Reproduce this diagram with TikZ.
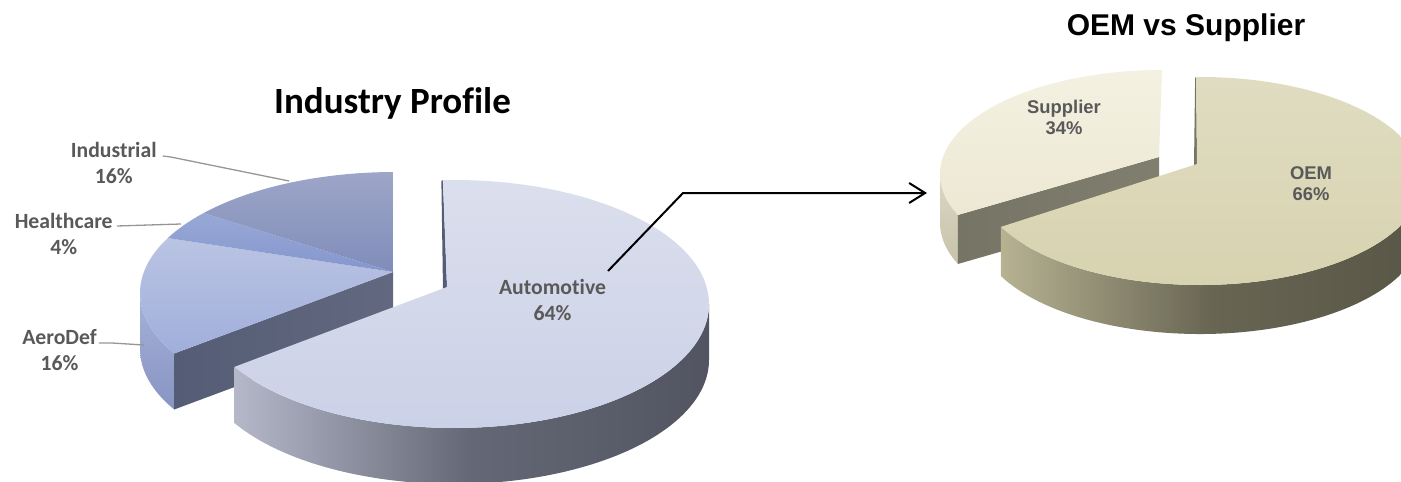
\documentclass[tikz,border=0pt]{standalone}
\usepackage{fontspec}
\setmainfont{Carlito}[Ligatures=CommonOff]
\newfontfamily\arialfont{Liberation Sans}
\usetikzlibrary{arrows.meta,calc}

\definecolor{lblgray}{RGB}{89,89,89}
\definecolor{leadgray}{RGB}{150,150,150}
\definecolor{indA}{RGB}{157,166,200}
\definecolor{indB}{RGB}{128,141,186}
\definecolor{heaA}{RGB}{152,168,214}
\definecolor{heaB}{RGB}{133,150,206}
\definecolor{aerA}{RGB}{186,196,227}
\definecolor{aerB}{RGB}{160,174,219}
\definecolor{aerrimA}{RGB}{166,178,216}
\definecolor{aerrimB}{RGB}{136,148,194}
\definecolor{cutA}{RGB}{97,104,127}
\definecolor{cutB}{RGB}{85,93,118}
\definecolor{autoA}{RGB}{219,223,237}
\definecolor{autoB}{RGB}{203,209,231}
\definecolor{autorimA}{RGB}{180,184,201}
\definecolor{autorimB}{RGB}{100,103,117}
\definecolor{autorimC}{RGB}{82,85,97}
\definecolor{supA}{RGB}{244,241,226}
\definecolor{supB}{RGB}{236,232,211}
\definecolor{suprimA}{RGB}{218,215,196}
\definecolor{suprimB}{RGB}{198,194,170}
\definecolor{supcutA}{RGB}{128,126,110}
\definecolor{supcutB}{RGB}{118,116,100}
\definecolor{oemA}{RGB}{224,220,193}
\definecolor{oemB}{RGB}{215,211,176}
\definecolor{oemrimA}{RGB}{182,178,146}
\definecolor{oemrimB}{RGB}{104,101,83}
\definecolor{oemrimC}{RGB}{88,86,70}

\begin{document}
\begin{tikzpicture}[x=1pt, y=-1pt,
  lbl/.style={font=\fontsize{21.7}{26}\selectfont\bfseries, text=lblgray, align=center, inner sep=0pt, anchor=base},
  rlbl/.style={font=\arialfont\bfseries\fontsize{18.4}{21}\selectfont, text=lblgray, align=center, inner sep=0pt, anchor=base},
  leader/.style={draw=leadgray, line width=1.3pt}]
  \useasboundingbox (0,0) rectangle (1401,482);

  % Industry Profile
  \coordinate (lc) at (395,293);
  \coordinate (lp) at (393,272);
  \coordinate (lcorner) at ($(lc)+(150:255 and 121)$);
  \shade[top color=aerrimA, bottom color=aerrimB] (lcorner) arc[start angle=150, end angle=180, x radius=255, y radius=121] -- ++(0,56) arc[start angle=180, end angle=150, x radius=255, y radius=121] -- cycle;
  \shade[left color=cutB, right color=cutA] (lcorner) -- (lp) -- ++(0,56) -- ($(lcorner)+(0,56)$) -- cycle;
  \shade[top color=aerA, bottom color=aerB] (lp) -- (lcorner) arc[start angle=150, end angle=207, x radius=255, y radius=121] -- cycle;
  \shade[top color=heaA, bottom color=heaB] (lp) -- ($(lc)+(207:255 and 121)$) arc[start angle=207, end angle=221.3, x radius=255, y radius=121] -- cycle;
  \shade[top color=indA, bottom color=indB] (lp) -- ($(lc)+(221.3:255 and 121)$) arc[start angle=221.3, end angle=269.5, x radius=255, y radius=121] -- cycle;

  \coordinate (ac) at (454,304);
  \coordinate (ap) at (447,287);
  \coordinate (atop) at ($(ac)+(-92.5:255 and 124)$);
  \fill[cutB] (atop) -- (ap) -- ++(-4,3) -- ($(atop)+(-1.5,1)$) -- cycle;
  \shade[left color=autorimA, right color=autorimC, middle color=autorimB] ($(ac)+(255,0)$) arc[start angle=0, end angle=149.5, x radius=255, y radius=124] -- ++(0,56) arc[start angle=149.5, end angle=0, x radius=255, y radius=124] -- cycle;
  \shade[top color=autoA, bottom color=autoB] (ap) -- (atop) arc[start angle=-92.5, end angle=149.5, x radius=255, y radius=124] -- cycle;

  % OEM vs Supplier
  \coordinate (sc) at (1162,174);
  \coordinate (sp) at (1159,157);
  \coordinate (scorner) at ($(sc)+(156.8:222 and 104)$);
  \shade[top color=suprimA, bottom color=suprimB] (scorner) arc[start angle=156.8, end angle=180, x radius=222, y radius=104] -- ++(0,49) arc[start angle=180, end angle=156.8, x radius=222, y radius=104] -- cycle;
  \shade[left color=supcutB, right color=supcutA] (scorner) -- (sp) -- ++(0,49) -- ($(scorner)+(0,49)$) -- cycle;
  \shade[top color=supA, bottom color=supB] (sp) -- (scorner) arc[start angle=156.8, end angle=270, x radius=222, y radius=104] -- cycle;

  \coordinate (oc) at (1200,181);
  \coordinate (op) at (1197,164);
  \coordinate (otop) at ($(oc)+(-91:222 and 104)$);
  \fill[supcutB] (otop) -- (op) -- ++(-3,2) -- ($(otop)+(-1,1)$) -- cycle;
  \shade[left color=oemrimA, right color=oemrimC, middle color=oemrimB] ($(oc)+(222,0)$) arc[start angle=0, end angle=153.8, x radius=222, y radius=104] -- ++(0,49) arc[start angle=153.8, end angle=0, x radius=222, y radius=104] -- cycle;
  \shade[top color=oemA, bottom color=oemB] (op) -- (otop) arc[start angle=-91, end angle=153.8, x radius=222, y radius=104] -- cycle;

  \node[font=\fontsize{37}{44}\selectfont\bfseries, anchor=base, inner sep=0pt] (proftitle) at (392.5,113) {Industry Profile};
  \node[font=\arialfont\bfseries\fontsize{30}{36}\selectfont, anchor=base, inner sep=0pt] (oemtitle) at (1186,35) {OEM vs Supplier};

  \node[lbl] (indlbl) at (113.7,183) {Industrial\\16\%};
  \node[lbl] (heallbl) at (63.7,254) {Healthcare\\4\%};
  \node[lbl] (aerolbl) at (59.5,370) {AeroDef\\16\%};
  \node[lbl] (autolbl) at (552.5,320) {Automotive\\64\%};
  \node[rlbl] (supplbl) at (1064,134) {Supplier\\34\%};
  \node[rlbl] (oemlbl) at (1311,200) {OEM\\66\%};

  \coordinate (indpt) at (289,181);
  \coordinate (healpt) at (181,224);
  \coordinate (aeropt) at (144,345);
  \draw[leader] (indlbl.base east) ++(6,-27) -- ++(8,1) -- (indpt);
  \draw[leader] (heallbl.base east) ++(4,-28) -- (healpt);
  \draw[leader] (aerolbl.base east) ++(2,-27) -- ++(13,0) -- (aeropt);

  \coordinate (autoarr) at (608,271);
  \coordinate (bend) at (683,193);
  \coordinate (suparr) at (927,193);
  \draw[line width=2pt, -{Straight Barb[length=16pt,width=20pt]}] (autoarr) -- (bend) -- (suparr);
\end{tikzpicture}
\end{document}
